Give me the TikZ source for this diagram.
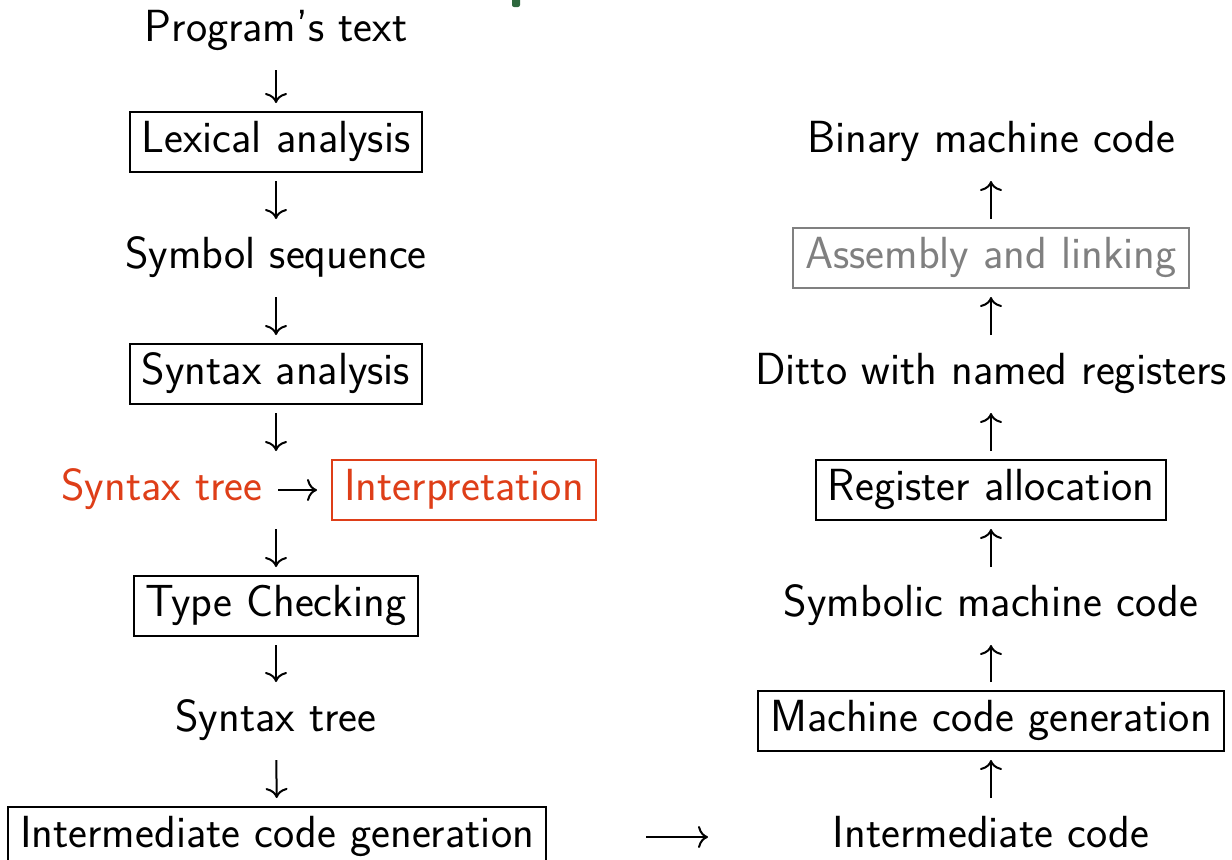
\documentclass[tikz,border=0pt]{standalone}
\usetikzlibrary{arrows.meta}
\definecolor{alertred}{RGB}{222,62,24}
\definecolor{dimgray}{RGB}{128,128,128}
\definecolor{slidegreen}{RGB}{46,104,62}
\tikzset{
  lbl/.style={font=\sffamily\fontsize{22.5}{27}\selectfont, text height=16pt, text depth=6pt, inner xsep=6pt, inner ysep=4pt},
  stage/.style={lbl, draw, line width=1pt},
  arr/.style={line width=1pt, -{Computer Modern Rightarrow[length=5pt,width=11pt,line width=1pt]}},
  vgap/.style={shorten <=19.5pt, shorten >=19.5pt}
}
\begin{document}
\begin{tikzpicture}[x=0.5pt,y=-0.5pt]
\useasboundingbox (0,0) rectangle (1232,859);
% partial title mark at top
\fill[slidegreen, rounded corners=1pt] (512,-6) rectangle (520,7);
% left column
\node[lbl] (prog) at (276,31) {Program's text};
\node[stage] (lex) at (276,142) {Lexical analysis};
\node[lbl] (sym) at (276,258) {Symbol sequence};
\node[stage] (syn) at (276,374) {Syntax analysis};
\node[lbl, text=alertred] (stree) at (162,490) {Syntax tree};
\node[stage, draw=alertred, text=alertred] (interp) at (464,490) {Interpretation};
\coordinate (streec) at (276,490);
\node[stage] (type) at (276,606) {Type Checking};
\node[lbl] (stree2) at (276,721) {Syntax tree};
\node[stage] (igen) at (277,837) {Intermediate code generation};
% right column
\node[lbl] (bin) at (991,142) {Binary machine code};
\node[stage, draw=dimgray, text=dimgray] (asm) at (991,258) {Assembly and linking};
\node[lbl] (ditto) at (991,374) {Ditto with named registers};
\node[stage] (reg) at (991,490) {Register allocation};
\node[lbl] (symm) at (991,606) {Symbolic machine code};
\node[stage] (mgen) at (991,721) {Machine code generation};
\node[lbl] (icode) at (991,837) {Intermediate code};
% left arrows
\draw[arr, vgap] (prog.center) -- (lex.center);
\draw[arr, vgap] (lex.center) -- (sym.center);
\draw[arr, vgap] (sym.center) -- (syn.center);
\draw[arr, vgap] (syn.center) -- (streec);
\draw[arr, vgap] (streec) -- (type.center);
\draw[arr, vgap] (type.center) -- (stree2.center);
\draw[arr, vgap] (stree2.center) -- (igen.center);
\draw[arr, shorten <=58pt, shorten >=73.5pt] (stree.center) -- (interp.center);
% bridge
\draw[arr, shorten <=184.5pt, shorten >=141.5pt] (igen.center) -- (icode.center);
% right arrows
\draw[arr, vgap] (icode.center) -- (mgen.center);
\draw[arr, vgap] (mgen.center) -- (symm.center);
\draw[arr, vgap] (symm.center) -- (reg.center);
\draw[arr, vgap] (reg.center) -- (ditto.center);
\draw[arr, vgap] (ditto.center) -- (asm.center);
\draw[arr, vgap] (asm.center) -- (bin.center);
\end{tikzpicture}
\end{document}
